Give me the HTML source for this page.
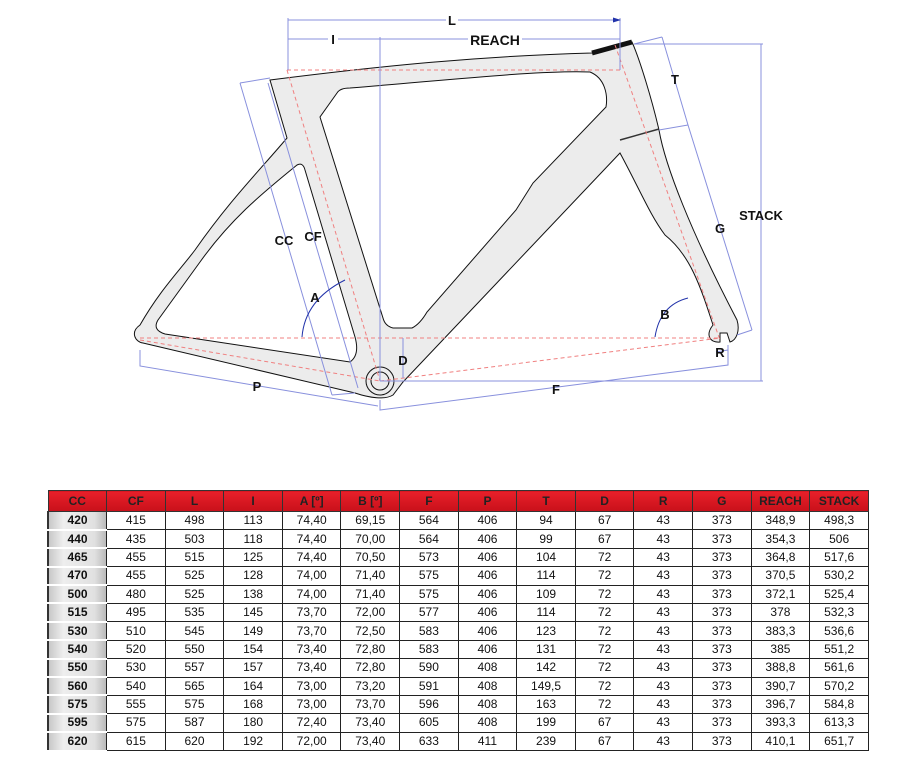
<!DOCTYPE html>
<html><head><meta charset="utf-8"><style>
body{margin:0;background:#fff;width:900px;height:784px;position:relative;overflow:hidden;font-family:"Liberation Sans",sans-serif}
svg{position:absolute;left:0;top:0}
table{position:absolute;left:47px;top:490px;width:822px;border-collapse:collapse;table-layout:fixed;font-size:12px}
td,th{border:1px solid #222;text-align:center;padding:0;line-height:13px;color:#111}
tr{height:18.4px}
tr.h{height:21px}
th{background:linear-gradient(#e8202a,#c8101a);color:#222;font-weight:bold;border-color:#333}
td.f{background:linear-gradient(90deg,#c8c8c8,#eee 25%,#e0e0e0 80%,#bbb);font-weight:bold;border-left:2px solid #333;border-bottom:2px solid #fff}
</style></head><body>
<svg width="900" height="480" viewBox="0 0 900 480">
<defs>
<marker id="a" markerWidth="8" markerHeight="6" refX="7" refY="3" orient="auto"><path d="M0,0.5 L8,3 L0,5.5z" fill="#2233aa"/></marker></defs>
<g fill="#ececec" stroke="#111" stroke-width="1">
<path d="M270,80 C380,66 480,56 592,53 L632,42 C640,60 652,100 659,130 C665,165 690,230 737,320 C740,330 737,340 730,342 L727,333 L720,333 L720,342 C710,343 705,335 713,325 C700,285 690,255 665,235 C650,215 640,190 620,153 L403,382 L393,395 C385,400 370,398 355,393 L143,343 C135,342 130,332 140,325 C160,290 180,270 195,250 C230,200 260,170 287,138 Z"/>
</g>
<g fill="#fff" stroke="#111" stroke-width="1">
<path d="M337,93 Q340,88 350,88 C450,80 540,70 590,72 C605,78 608,95 606,107 L533,183 L516,210 L427,312 Q420,324 412,328 L393,328 Q385,326 383,318 L320,117 Z"/>
<path d="M297,165 Q303,162 305,170 L355,337 Q360,355 350,362 L165,334 Q152,330 158,320 L200,262 C230,220 260,195 297,165Z"/>
</g>
<circle cx="380" cy="381" r="14" fill="#ececec" stroke="#111"/>
<circle cx="380" cy="381" r="9" fill="none" stroke="#111"/>
<path d="M592,53 L632,42" stroke="#111" stroke-width="5"/>
<path d="M620,140 L659,129" stroke="#333" stroke-width="1.5"/>
<g stroke="#f08080" stroke-width="1" stroke-dasharray="4,3" fill="none">
<path d="M140,338 H720"/><path d="M287,70 L380,381"/><path d="M287,70 H620"/><path d="M615,45 L720,340"/>
<path d="M140,340 L380,381"/><path d="M380,381 L720,338"/>
</g>
<g stroke="#8890dd" stroke-width="1" fill="none">
<path d="M288,18 V70 M620,18 V70 M380,37 V381 M634,44 H763 M380,381 H763"/>
<path d="M288,20 H446 M458,20 H620" marker-end="url(#a)"/>
<path d="M288,39 H328 M338,39 H380 M380,39 H468 M522,39 H620"/>
<path d="M761,44 V381"/>
<path d="M662,37 L688,125 L752,330"/>
<path d="M634,44 L662,37 M659,130 L688,125 M737,335 L752,330 M240,83 L270,78"/>
<path d="M240,83 L332,395 M268,83 L358,388 M332,395 L355,393"/>
<path d="M140,350 V366 L378,406 M380,400 V410 L728,365 V345"/>
<path d="M403,338 V378"/>
<path d="M716,352 L728,350"/>
</g>
<g stroke="#2233aa" stroke-width="1" fill="none">
<path d="M302,337 Q305,300 345,280" /><path d="M655,337 Q660,305 688,298"/>
</g>
<g font-family="Liberation Sans,sans-serif" font-size="13" font-weight="bold" fill="#111" text-anchor="middle">
<text x="452" y="25">L</text><text x="333" y="44">I</text><text x="495" y="45" font-size="14">REACH</text>
<text x="675" y="84">T</text><text x="720" y="233">G</text><text x="761" y="220">STACK</text>
<text x="284" y="245">CC</text><text x="313" y="241">CF</text><text x="315" y="302">A</text>
<text x="665" y="319">B</text><text x="403" y="365">D</text><text x="720" y="357">R</text>
<text x="257" y="391">P</text><text x="556" y="394">F</text>
</g>
</svg>
<table>
<tr class="h"><th>CC</th><th>CF</th><th>L</th><th>I</th><th>A [º]</th><th>B [º]</th><th>F</th><th>P</th><th>T</th><th>D</th><th>R</th><th>G</th><th>REACH</th><th>STACK</th></tr>
<tr><td class="f">420</td><td>415</td><td>498</td><td>113</td><td>74,40</td><td>69,15</td><td>564</td><td>406</td><td>94</td><td>67</td><td>43</td><td>373</td><td>348,9</td><td>498,3</td></tr>
<tr><td class="f">440</td><td>435</td><td>503</td><td>118</td><td>74,40</td><td>70,00</td><td>564</td><td>406</td><td>99</td><td>67</td><td>43</td><td>373</td><td>354,3</td><td>506</td></tr>
<tr><td class="f">465</td><td>455</td><td>515</td><td>125</td><td>74,40</td><td>70,50</td><td>573</td><td>406</td><td>104</td><td>72</td><td>43</td><td>373</td><td>364,8</td><td>517,6</td></tr>
<tr><td class="f">470</td><td>455</td><td>525</td><td>128</td><td>74,00</td><td>71,40</td><td>575</td><td>406</td><td>114</td><td>72</td><td>43</td><td>373</td><td>370,5</td><td>530,2</td></tr>
<tr><td class="f">500</td><td>480</td><td>525</td><td>138</td><td>74,00</td><td>71,40</td><td>575</td><td>406</td><td>109</td><td>72</td><td>43</td><td>373</td><td>372,1</td><td>525,4</td></tr>
<tr><td class="f">515</td><td>495</td><td>535</td><td>145</td><td>73,70</td><td>72,00</td><td>577</td><td>406</td><td>114</td><td>72</td><td>43</td><td>373</td><td>378</td><td>532,3</td></tr>
<tr><td class="f">530</td><td>510</td><td>545</td><td>149</td><td>73,70</td><td>72,50</td><td>583</td><td>406</td><td>123</td><td>72</td><td>43</td><td>373</td><td>383,3</td><td>536,6</td></tr>
<tr><td class="f">540</td><td>520</td><td>550</td><td>154</td><td>73,40</td><td>72,80</td><td>583</td><td>406</td><td>131</td><td>72</td><td>43</td><td>373</td><td>385</td><td>551,2</td></tr>
<tr><td class="f">550</td><td>530</td><td>557</td><td>157</td><td>73,40</td><td>72,80</td><td>590</td><td>408</td><td>142</td><td>72</td><td>43</td><td>373</td><td>388,8</td><td>561,6</td></tr>
<tr><td class="f">560</td><td>540</td><td>565</td><td>164</td><td>73,00</td><td>73,20</td><td>591</td><td>408</td><td>149,5</td><td>72</td><td>43</td><td>373</td><td>390,7</td><td>570,2</td></tr>
<tr><td class="f">575</td><td>555</td><td>575</td><td>168</td><td>73,00</td><td>73,70</td><td>596</td><td>408</td><td>163</td><td>72</td><td>43</td><td>373</td><td>396,7</td><td>584,8</td></tr>
<tr><td class="f">595</td><td>575</td><td>587</td><td>180</td><td>72,40</td><td>73,40</td><td>605</td><td>408</td><td>199</td><td>67</td><td>43</td><td>373</td><td>393,3</td><td>613,3</td></tr>
<tr><td class="f">620</td><td>615</td><td>620</td><td>192</td><td>72,00</td><td>73,40</td><td>633</td><td>411</td><td>239</td><td>67</td><td>43</td><td>373</td><td>410,1</td><td>651,7</td></tr>
</table>
</body></html>
